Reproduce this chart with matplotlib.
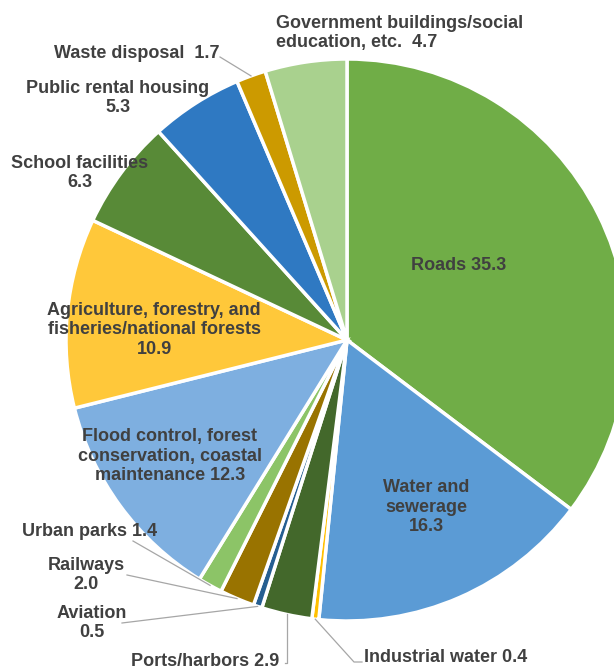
import numpy as np
import matplotlib
matplotlib.use("Agg")
import matplotlib.pyplot as plt

# Share of public works budget by field (%), clockwise from 12 o'clock
categories = ["Roads", "Water and sewerage", "Industrial water", "Ports/harbors",
              "Aviation", "Railways", "Urban parks",
              "Flood control, forest conservation, coastal maintenance",
              "Agriculture, forestry, and fisheries/national forests",
              "School facilities", "Public rental housing", "Waste disposal",
              "Government buildings/social education, etc."]
values = [35.3, 16.3, 0.4, 2.9, 0.5, 2.0, 1.4, 12.3, 10.9, 6.3, 5.3, 1.7, 4.7]
colors = ["#70AD47", "#5B9BD5", "#FFC000", "#43682B", "#255E91", "#997300",
          "#8CC467", "#7EAFE0", "#FFC83A", "#588A37", "#2F79C2", "#CC9A00",
          "#A9D18E"]

# label text shown on the chart
label_texts = ["Roads 35.3", "Water and\nsewerage\n16.3", "Industrial water 0.4",
               "Ports/harbors 2.9", "Aviation\n0.5", "Railways\n2.0",
               "Urban parks 1.4",
               "Flood control, forest\nconservation, coastal\nmaintenance 12.3",
               "Agriculture, forestry, and\nfisheries/national forests\n10.9",
               "School facilities\n6.3", "Public rental housing\n5.3",
               "Waste disposal  1.7",
               "Government buildings/social\neducation, etc.  4.7"]

W, H = 614, 671
CX, CY, R = 347, H - 340, 281

# label anchor (pixel, y from top), alignment, leader line end (None = no line)
label_pos = [(459, 265, "center"), (426, 507, "center"), (364, 657, "left"),
             (205, 661, "center"), (92, 623, "center"), (86, 575, "center"),
             (90, 532, "center"), (170, 456, "center"), (154, 330, "center"),
             (80, 173, "center"), (118, 98, "center"), (137, 53, "center"),
             (276, 33, "left")]
leader_end = [None, None, (362, 662), (285, 663), (122, 623), (127, 575),
              (133, 541), None, None, None, None, (220, 57), None]

plt.rcParams["font.family"] = ["Liberation Sans", "DejaVu Sans"]
fig = plt.figure(figsize=(W / 100, H / 100), dpi=100)
ax = fig.add_axes([0, 0, 1, 1])
ax.axis("off")

wedges, _ = ax.pie(values, colors=colors, startangle=90, counterclock=False,
                   center=(CX, CY), radius=R,
                   wedgeprops=dict(edgecolor="white", linewidth=2.5))
ax.set_xlim(0, W)
ax.set_ylim(0, H)
ax.set_aspect("equal")

for w, txt, (lx, ly, ha), end in zip(wedges, label_texts, label_pos, leader_end):
    ax.text(lx, H - ly, txt, ha=ha, va="center", fontsize=13, fontweight="bold",
            color="#404040", linespacing=1.22)
    if end is not None:
        mid = np.deg2rad((w.theta1 + w.theta2) / 2)
        sx = CX + R * np.cos(mid)
        sy = CY + R * np.sin(mid)
        ex, ey = end
        if txt.startswith("Ports"):
            ax.plot([sx, sx, ex], [sy, H - ey, H - ey], color="#A6A6A6", lw=0.9)
        elif txt.startswith("Industrial"):
            ax.plot([sx, ex - 8, ex], [sy, H - ey, H - ey], color="#A6A6A6", lw=0.9)
        else:
            ax.plot([sx, ex], [sy, H - ey], color="#A6A6A6", lw=0.9)

fig.savefig("out.png", dpi=100)
